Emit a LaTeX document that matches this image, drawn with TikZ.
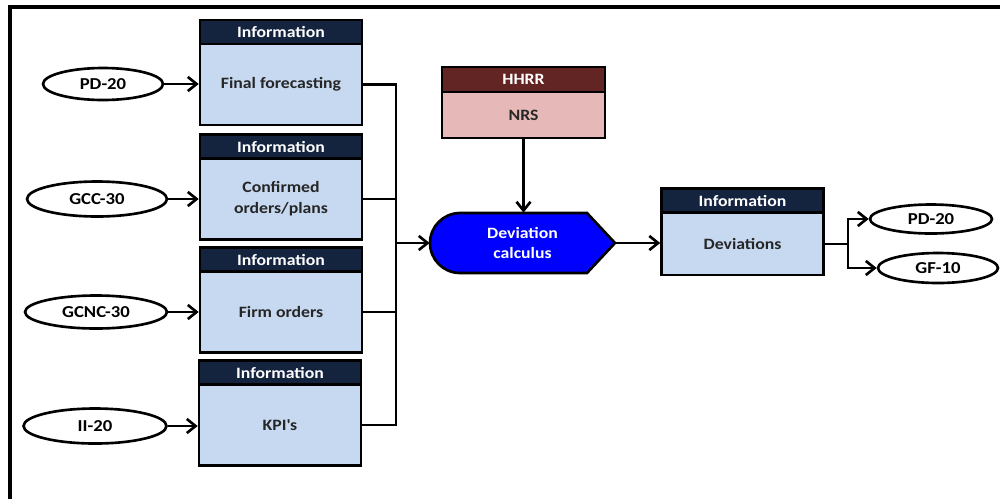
\documentclass[tikz,border=0pt]{standalone}
\usepackage{fontspec}
\setmainfont{Carlito}[FakeStretch=1.12]
\usetikzlibrary{arrows.meta,shapes.geometric}
\definecolor{navy}{HTML}{14243F}
\definecolor{lblue}{HTML}{C6D9F1}
\definecolor{dred}{HTML}{632523}
\definecolor{lpink}{HTML}{E6B9B8}
\definecolor{devblue}{HTML}{0000FF}
\begin{document}
\begin{tikzpicture}[x=0.02cm,y=-0.02cm,
  hdr/.style={draw=black,line width=1.5pt,fill=navy,text=white,inner sep=0pt,
    minimum width=3.24cm,minimum height=0.48cm,font=\bfseries\fontsize{9}{10}\selectfont},
  bodybox/.style={draw=black,line width=1.5pt,fill=lblue,text=black!85,inner sep=0pt,
    minimum width=3.24cm,minimum height=1.62cm,align=center,font=\bfseries\fontsize{9}{12}\selectfont},
  oval/.style={ellipse,draw=black,line width=1.5pt,fill=white,inner sep=0pt,
    font=\bfseries\fontsize{9.5}{10}\selectfont},
  conn/.style={line width=1.5pt},
  arr/.style={line width=1.5pt,-{Straight Barb[length=5pt,width=8pt,line width=1.5pt]}}]
\useasboundingbox (0,0) rectangle (1000,498);
% frame
\draw[line width=1.8pt] (10,510) -- (10,7) -- (1010,7);

% left information boxes
\node[hdr] (h1) at (281,32) {Information};
\node[bodybox] (b1) at (281,84.5) {Final forecasting};
\node[hdr] (h2) at (281,146.5) {Information};
\node[bodybox] (b2) at (281,199) {Confirmed\\orders/plans};
\node[hdr] (h3) at (281,259.5) {Information};
\node[bodybox] (b3) at (281,312) {Firm orders};
\node[hdr] (h4) at (280,372.5) {Information};
\node[bodybox] (b4) at (280,425) {KPI\textquotesingle s};

% left ovals
\node[oval,minimum width=2.4cm,minimum height=0.64cm] (e1) at (103,84) {PD-20};
\node[oval,minimum width=2.8cm,minimum height=0.7cm] (e2) at (97,199) {GCC-30};
\node[oval,minimum width=2.84cm,minimum height=0.66cm] (e3) at (96,312) {GCNC-30};
\node[oval,minimum width=2.86cm,minimum height=0.7cm] (e4) at (95,426) {II-20};

\draw[arr] (e1.east) -- (e1.east -| b1.west);
\draw[arr] (e2.east) -- (e2.east -| b2.west);
\draw[arr] (e3.east) -- (e3.east -| b3.west);
\draw[arr] (e4.east) -- (e4.east -| b4.west);

% HHRR box
\node[hdr,fill=dred,minimum width=3.26cm,minimum height=0.5cm] (hh) at (523.5,79.5) {HHRR};
\node[bodybox,fill=lpink,minimum width=3.26cm,minimum height=0.92cm] (nrs) at (523.5,115) {NRS};

% deviation calculus shape
\draw[line width=1.5pt,fill=devblue] (460,213) -- (587,213) -- (615,243) -- (587,273) -- (460,273)
  arc[start angle=270,end angle=90,radius=0.6cm] -- cycle;
\node[text=white,align=center,inner sep=0pt,minimum width=3.7cm,minimum height=1.2cm,
  font=\bfseries\fontsize{9}{11}\selectfont] (dev) at (522.5,243) {Deviation\\calculus};

% deviations box
\node[hdr] (hd) at (742.5,200.5) {Information};
\node[bodybox,minimum height=1.24cm] (dv) at (742.5,244) {Deviations};

% right ovals
\node[oval,minimum width=2.44cm,minimum height=0.58cm] (o1) at (931,219) {PD-20};
\node[oval,minimum width=2.4cm,minimum height=0.6cm] (o2) at (938,268) {GF-10};

% bus connectors
\coordinate (bus) at (396,243);
\draw[conn] (b1.east) -- (b1.east -| bus) -- (b4.east -| bus) -- (b4.east);
\draw[conn] (b2.east) -- (b2.east -| bus);
\draw[conn] (b3.east) -- (b3.east -| bus);
\draw[arr] (bus) -- (dev.west);
\draw[arr] (nrs.south) -- (nrs.south |- dev.north);
\draw[arr] (dev.east) -- (dv.west |- dev.east);

\coordinate (split) at (848,244);
\draw[conn] (dv.east) -- (split);
\draw[arr] (split) |- (o1.west);
\draw[arr] (split) |- (o2.west);
\end{tikzpicture}
\end{document}
